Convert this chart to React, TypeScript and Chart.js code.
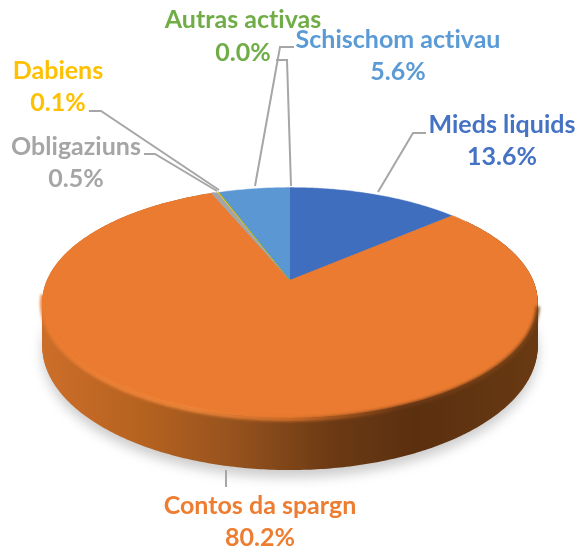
import React, { useEffect, useRef } from "react";
import { Chart, registerables } from "chart.js";

Chart.register(...registerables);

const categories = ["Mieds liquids", "Contos da spargn", "Obligaziuns", "Dabiens", "Autras activas", "Schischom activau"];
const shares = [13.6, 80.2, 0.5, 0.1, 0.02, 5.6];
const shareLabels = ["13.6%", "80.2%", "0.5%", "0.1%", "0.0%", "5.6%"];
const colors = ["#4472C4", "#ED7D31", "#A5A5A5", "#FFC000", "#70AD47", "#5B9BD5"];
const faceColors = ["#406EBF", "#EA7B30", "#A5A5A5", "#E8C020", "#70AD47", "#5A97D3"];

// label centres: [x, first line mid y, second line mid y]
const labelPos = [
  [502, 125, 157],
  [260, 506, 538],
  [76, 147, 179],
  [58, 71, 103],
  [243, 20, 53],
  [398, 40, 72],
];
const leaderLines = [
  [[378, 192], [413, 133], [426, 133]],
  [[226, 470], [226, 487]],
  [[144, 154], [155, 154], [217, 191]],
  [[89, 111], [101, 111], [219, 190]],
  [[276, 60], [287, 60], [291, 186]],
  [[255, 186], [280, 47], [294, 47]],
];

const APEX = { x: 290, y: 280 };
const PERSP = 0.195;
const SCALE_X = 243;
const SCALE_Y = 111;
const DEPTH = 42;

function project(theta: number, depth = 0) {
  const u = Math.cos(theta);
  const v = -Math.sin(theta);
  const w = 1 + PERSP * v;
  return { x: APEX.x + (SCALE_X * u) / w, y: APEX.y - (SCALE_Y * v) / w + depth / w };
}

function tracePath(ctx: CanvasRenderingContext2D, start: number, end: number, depth = 0, withCentre = true) {
  ctx.beginPath();
  if (withCentre) ctx.moveTo(APEX.x, APEX.y + depth);
  const n = Math.max(2, Math.ceil((end - start) * 90));
  for (let i = 0; i <= n; i++) {
    const p = project(start + ((end - start) * i) / n, depth);
    if (i === 0 && !withCentre) ctx.moveTo(p.x, p.y);
    else ctx.lineTo(p.x, p.y);
  }
  if (withCentre) ctx.closePath();
}

const pie3d = {
  id: "pie3d",
  beforeDatasetsDraw(chart: any) {
    const ctx: CanvasRenderingContext2D = chart.ctx;
    const arcs = chart.getDatasetMeta(0).data;
    const main = arcs[1];

    // soft shadow under the disc
    ctx.save();
    ctx.filter = "blur(6px)";
    ctx.fillStyle = "rgba(120,120,120,0.38)";
    tracePath(ctx, 0, Math.PI * 2, DEPTH + 6);
    ctx.fill();
    ctx.restore();

    // side wall
    const side = ctx.createLinearGradient(43, 0, 540, 0);
    side.addColorStop(0, "#cc6e2a");
    side.addColorStop(0.2, "#b6621f");
    side.addColorStop(0.38, "#97531e");
    side.addColorStop(0.58, "#6c3a14");
    side.addColorStop(0.75, "#5b3010");
    side.addColorStop(1, "#693a12");
    ctx.fillStyle = side;
    for (let d = DEPTH; d >= 0; d -= 1) {
      tracePath(ctx, main.startAngle, main.endAngle, d);
      ctx.fill();
    }

    // top faces
    arcs.forEach((arc: any, i: number) => {
      ctx.fillStyle = faceColors[i];
      tracePath(ctx, arc.startAngle, arc.endAngle);
      ctx.fill();
      if (arc.endAngle - arc.startAngle < 0.05) {
        ctx.strokeStyle = faceColors[i];
        ctx.lineWidth = 1;
        ctx.stroke();
      }
    });

    // bevel along the front rim
    const rim = ctx.createLinearGradient(43, 0, 540, 0);
    rim.addColorStop(0, "#EA7B30");
    rim.addColorStop(0.12, "#f08438");
    rim.addColorStop(0.3, "#f58a3e");
    rim.addColorStop(0.5, "#d9732b");
    rim.addColorStop(0.72, "#6a3814");
    rim.addColorStop(0.95, "#7a4217");
    ctx.save();
    ctx.filter = "blur(1.5px)";
    ctx.strokeStyle = rim;
    ctx.lineWidth = 4;
    tracePath(ctx, 0.22, Math.PI - 0.12, 1, false);
    ctx.stroke();
    ctx.restore();

    // thin light edge on the far rim
    ctx.save();
    ctx.strokeStyle = "rgba(255,255,255,0.45)";
    ctx.lineWidth = 1;
    tracePath(ctx, -Math.PI * 0.62, -Math.PI * 0.2, 0, false);
    ctx.stroke();
    ctx.restore();
    return false;
  },
  afterDraw(chart: any) {
    const ctx: any = chart.ctx;
    ctx.save();
    ctx.strokeStyle = "#A6A6A6";
    ctx.lineWidth = 2;
    leaderLines.forEach((line) => {
      ctx.beginPath();
      line.forEach(([x, y], i) => (i === 0 ? ctx.moveTo(x, y) : ctx.lineTo(x, y)));
      ctx.stroke();
    });
    ctx.font = 'bold 25px Lato, "Open Sans", sans-serif';
    ctx.letterSpacing = "0.01px";
    ctx.textAlign = "center";
    ctx.textBaseline = "middle";
    categories.forEach((name, i) => {
      ctx.fillStyle = colors[i];
      ctx.fillText(name, labelPos[i][0], labelPos[i][1]);
      ctx.fillText(shareLabels[i], labelPos[i][0], labelPos[i][2]);
    });
    ctx.restore();
  },
};

export default function App() {
  const ref = useRef<HTMLCanvasElement>(null);
  useEffect(() => {
    const chart = new Chart(ref.current!, {
      type: "pie",
      data: {
        labels: categories,
        datasets: [{ data: shares, backgroundColor: colors, borderWidth: 0 }],
      },
      options: {
        animation: false,
        responsive: false,
        plugins: { legend: { display: false }, tooltip: { enabled: false } },
      },
      plugins: [pie3d],
    } as any);
    return () => chart.destroy();
  }, []);
  return (
    <div style={{ position: "absolute", left: 0, top: 0, width: 579, height: 554, background: "#fff" }}>
      <canvas ref={ref} width={579} height={554} style={{ display: "block" }} />
    </div>
  );
}
